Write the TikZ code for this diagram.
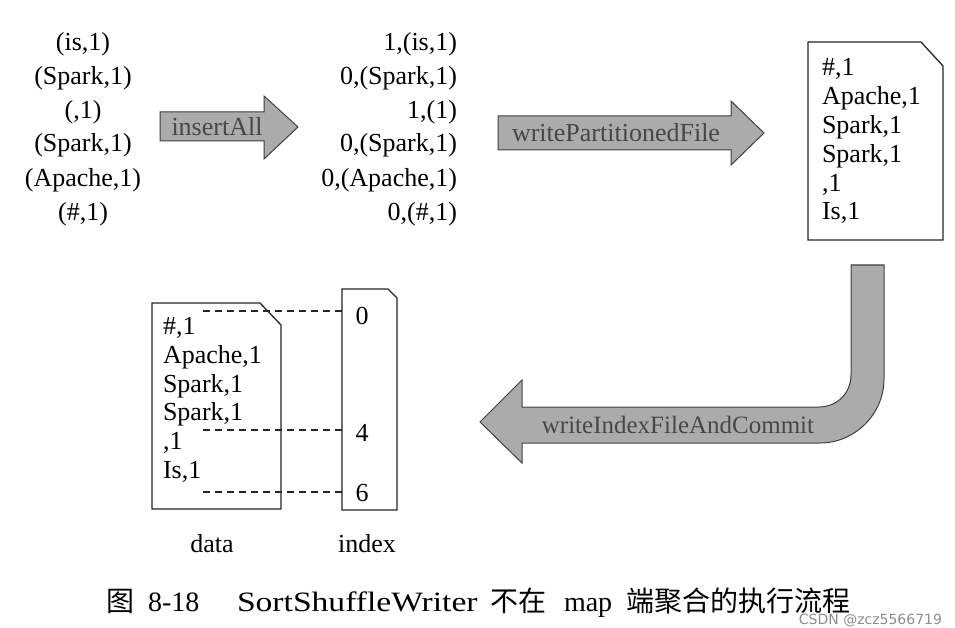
\documentclass[tikz,border=0pt]{standalone}
\usepackage{fontspec}
\setmainfont{Liberation Serif}
\newfontfamily\cjk{Noto Sans CJK SC}
\newfontfamily\capwide[FakeStretch=1.2]{Liberation Serif}
\newfontfamily\wmfont{DejaVu Sans}
\begin{document}
\begin{tikzpicture}[x=1pt,y=-1pt,
  every node/.style={inner sep=0pt,outer sep=0pt},
  txt/.style={font=\fontsize{26}{30}\selectfont},
  lcol/.style={txt,anchor=base},
  rcol/.style={txt,anchor=base east},
  doctxt/.style={txt,anchor=base west},
  fatarrow/.style={draw=black!75,line width=1pt,fill=black!33,line join=miter},
  arrowlabel/.style={font=\fontsize{26}{30}\selectfont,text=black!72},
  docbox/.style={draw=black!85,line width=1.3pt,fill=white,line join=miter},
  link/.style={draw=black!85,line width=1.1pt,dash pattern=on 7pt off 5pt},
  captext/.style={anchor=base west,font=\fontsize{28}{32}\selectfont}]
\useasboundingbox (0,0) rectangle (955,628);

% left column
\node[lcol] (a1) at (83,51) {(is,1)};
\node[lcol] (a2) at (83,85) {(Spark,1)};
\node[lcol] (a3) at (83,119) {(,1)};
\node[lcol] (a4) at (83,152) {(Spark,1)};
\node[lcol] (a5) at (83,187) {(Apache,1)};
\node[lcol] (a6) at (83,221) {(\#,1)};

% insertAll arrow
\draw[fatarrow] (160,112) -- (264,112) -- (264,96) -- (298,127) -- (264,159) -- (264,141) -- (160,141) -- cycle;
\node[arrowlabel] (ins) at (217,127) {insertAll};

% middle column
\node[rcol] (b1) at (457,51) {1,(is,1)};
\node[rcol] (b2) at (457,85) {0,(Spark,1)};
\node[rcol] (b3) at (457,119) {1,(1)};
\node[rcol] (b4) at (457,152) {0,(Spark,1)};
\node[rcol] (b5) at (457,187) {0,(Apache,1)};
\node[rcol] (b6) at (457,221) {0,(\#,1)};

% writePartitionedFile arrow
\draw[fatarrow] (498,116) -- (731,116) -- (731,101) -- (764,133) -- (731,165) -- (731,150) -- (498,150) -- cycle;
\node[arrowlabel] (wpf) at (616,133) {writePartitionedFile};

% right document
\draw[docbox] (808,42) -- (921,42) -- (943,66) -- (943,240) -- (808,240) -- cycle;
\node[doctxt] (c1) at (822,76) {\#,1};
\node[doctxt] (c2) at (822,105) {Apache,1};
\node[doctxt] (c3) at (822,134) {Spark,1};
\node[doctxt] (c4) at (822,163) {Spark,1};
\node[doctxt] (c5) at (822,192) {,1};
\node[doctxt] (c6) at (822,220) {Is,1};

% bent arrow
\draw[fatarrow] (851,265) -- (884,265) -- (884,379)
  .. controls (884,414) and (855,443) .. (820,443)
  -- (522,443) -- (522,463) -- (480,422) -- (522,380) -- (522,407) -- (819,407)
  .. controls (837,407) and (851,393) .. (851,375) -- cycle;
\node[arrowlabel,font=\fontsize{25}{30}\selectfont] (wif) at (678,425) {writeIndexFileAndCommit};

% data document
\draw[docbox] (152,303) -- (260,303) -- (281,325) -- (281,509) -- (152,509) -- cycle;
\node[doctxt] (d1) at (163,334) {\#,1};
\node[doctxt] (d2) at (163,363) {Apache,1};
\node[doctxt] (d3) at (163,392) {Spark,1};
\node[doctxt] (d4) at (163,420) {Spark,1};
\node[doctxt] (d5) at (163,449) {,1};
\node[doctxt] (d6) at (163,478) {Is,1};

% index box
\draw[docbox] (342,289) -- (388,289) -- (397,298) -- (397,510) -- (342,510) -- cycle;
\node[lcol] (i0) at (362,324) {0};
\node[lcol] (i4) at (362,441) {4};
\node[lcol] (i6) at (362,501) {6};

% dashed links
\coordinate (s0) at (203,311); \coordinate (e0) at (342,311);
\coordinate (s4) at (203,430); \coordinate (e4) at (342,430);
\coordinate (s6) at (203,492); \coordinate (e6) at (342,492);
\draw[link] (s0) -- (e0);
\draw[link] (s4) -- (e4);
\draw[link] (s6) -- (e6);

% labels
\node[lcol] (ldata) at (212,552) {data};
\node[lcol] (lindex) at (367,552) {index};

% caption
\node[captext] (k1) at (106,611) {\cjk 图};
\node[captext] (k2) at (148,611) {8-18};
\node[captext,font=\fontsize{28}{32}\capwide] (k3) at (237,611) {SortShuffleWriter};
\node[captext] (k4) at (490,611) {\cjk 不在};
\node[captext] (k5) at (564,611) {map};
\node[captext] (k6) at (626,611) {\cjk 端聚合的执行流程};

% watermark
\node[anchor=base east,font=\fontsize{14}{16}\wmfont,text=black!45] (wm) at (942,624) {CSDN @zcz5566719};
\end{tikzpicture}
\end{document}
